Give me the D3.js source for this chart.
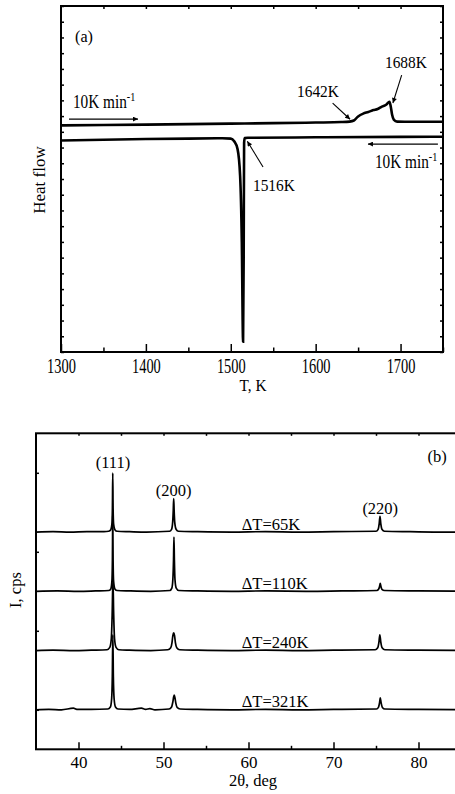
<!DOCTYPE html>
<html>
<head>
<meta charset="utf-8">
<script src="https://cdn.jsdelivr.net/npm/d3@7"></script>
<style>
  html, body { margin: 0; padding: 0; background: #fff; }
  svg { display: block; }
  text { font-family: "Liberation Serif", "Times New Roman", serif; fill: #000; }
</style>
</head>
<body>
<svg id="chart" width="455" height="794"></svg>
<script>
// ---- panel (a): DSC heating / cooling ----
const heatT = [1300, 1350, 1400, 1450, 1500, 1550, 1600, 1630, 1640, 1645, 1650, 1656, 1662, 1668, 1673, 1678, 1683, 1687, 1688.5, 1690, 1692, 1696, 1705, 1750];
const heatV = [14.41, 14.43, 14.46, 14.49, 14.52, 14.55, 14.59, 14.62, 14.65, 14.72, 14.98, 15.16, 15.26, 15.38, 15.45, 15.6, 15.72, 15.91, 15.6, 15.1, 14.78, 14.65, 14.64, 14.64];
const coolT = [1300, 1350, 1400, 1450, 1490, 1500, 1504, 1508, 1511, 1513, 1514.5, 1515.2, 1515.7, 1516.4, 1520, 1600, 1700, 1750];
const coolV = [13.45, 13.5, 13.54, 13.57, 13.59, 13.57, 13.4, 12.9, 11.2, 7.0, 0.65, 6.0, 13.3, 13.6, 13.62, 13.65, 13.68, 13.69];
const tempTicks = [1300, 1400, 1500, 1600, 1700];
const tempMinor = [1350, 1450, 1550, 1650, 1750];
const tempTop = [1350, 1400, 1450, 1500, 1550, 1600, 1650, 1700];
const flowTicks = d3.range(0, 23);
// annotations: [label, textT, textV, fromT, fromV, toT, toV]
const dscNotes = [
  ["1642K", 1578, 16.21, 1620, 15.83, 1640.5, 14.8],
  ["1688K", 1681.6, 18.05, 1701.3, 17.61, 1691, 15.83],
  ["1516K", 1526.1, 10.24, 1538, 11.76, 1519.5, 13.4]
];
const rateArrows = [[1309.4, 14.81, 1390.7, 14.81], [1744, 13.22, 1661.6, 13.22]];
const rateLabels = [[1314, 15.5], [1669.8, 11.7]];

// ---- panel (b): XRD patterns ----
const xrdLabels = ["\u0394T=65K", "\u0394T=110K", "\u0394T=240K", "\u0394T=321K"];
const xrdOffsets = [5.5, 4.0, 2.5, 1.0];
const xrd65 = [[35, 0], [37, 0.01], [39, 0], [41, 0.01], [43, 0.01], [43.55, 0.02], [43.8, 0.06], [43.93, 0.2], [43.99, 0.6], [44.03, 1.49], [44.07, 0.6], [44.13, 0.2], [44.28, 0.06], [44.55, 0.02], [46, 0.01], [48, 0], [50.7, 0.02], [50.95, 0.07], [51.08, 0.25], [51.15, 0.55], [51.2, 0.85], [51.25, 0.55], [51.32, 0.25], [51.48, 0.07], [51.75, 0.02], [54, 0.01], [58, 0], [62, 0.01], [66, 0], [70, 0.01], [75.0, 0.02], [75.25, 0.07], [75.38, 0.22], [75.47, 0.4], [75.56, 0.22], [75.7, 0.07], [76.0, 0.02], [79, 0.01], [83, 0], [86, 0]];
const xrd110 = [[35, 0], [37.5, 0.01], [40, 0], [42, 0.01], [43.55, 0.02], [43.8, 0.06], [43.93, 0.25], [43.99, 0.8], [44.03, 1.9], [44.07, 0.8], [44.13, 0.25], [44.28, 0.06], [44.55, 0.02], [46, 0.01], [48.5, 0], [50.75, 0.02], [50.98, 0.08], [51.1, 0.3], [51.18, 0.8], [51.23, 1.37], [51.28, 0.8], [51.35, 0.3], [51.5, 0.08], [51.8, 0.02], [54, 0.01], [58, 0], [62, 0.01], [67, 0], [71, 0.01], [75.1, 0.02], [75.3, 0.05], [75.42, 0.12], [75.5, 0.2], [75.58, 0.12], [75.7, 0.05], [76.0, 0.02], [80, 0.01], [86, 0]];
const xrd240 = [[35, 0], [37, 0.01], [39.5, 0], [41.5, 0.01], [43.35, 0.02], [43.68, 0.08], [43.86, 0.3], [43.96, 0.9], [44.05, 1.8], [44.14, 0.9], [44.24, 0.3], [44.42, 0.08], [44.75, 0.02], [46, 0.01], [48.5, 0], [50.5, 0.02], [50.85, 0.07], [51.0, 0.2], [51.1, 0.38], [51.2, 0.45], [51.3, 0.38], [51.4, 0.2], [51.56, 0.07], [51.9, 0.02], [54, 0.01], [58, 0], [62, 0.01], [66, 0], [70, 0.01], [74.9, 0.02], [75.2, 0.07], [75.35, 0.22], [75.45, 0.4], [75.56, 0.22], [75.72, 0.07], [76.05, 0.02], [80, 0.01], [86, 0]];
const xrd321 = [[35, 0], [36.5, 0.01], [38, 0], [39.4, 0.04], [39.8, 0.01], [41.5, 0.01], [43.45, 0.02], [43.75, 0.07], [43.9, 0.28], [43.98, 0.85], [44.04, 1.9], [44.1, 0.85], [44.19, 0.28], [44.35, 0.07], [44.65, 0.02], [46, 0.01], [47.4, 0.04], [47.9, 0.01], [48.4, 0.03], [49, 0], [50.65, 0.02], [50.95, 0.07], [51.1, 0.2], [51.2, 0.33], [51.27, 0.37], [51.35, 0.3], [51.45, 0.17], [51.6, 0.06], [51.95, 0.02], [54, 0.01], [58, 0], [62, 0.01], [66, 0], [70, 0.01], [75.05, 0.02], [75.3, 0.07], [75.42, 0.18], [75.5, 0.3], [75.6, 0.18], [75.75, 0.06], [76.05, 0.02], [80, 0.01], [86, 0]];
const xrdSets = [xrd65, xrd110, xrd240, xrd321];
const peakLabels = [["(111)", 44.05, 7.12], ["(200)", 51.2, 6.41], ["(220)", 75.5, 5.96]];
const angleTicks = [40, 50, 60, 70, 80];
const angleMinor = [45, 55, 65, 75, 85];
const angleTop = [40, 45, 50, 55, 60, 65, 70, 75, 80];
const cpsTicks = [1, 3, 5, 7];

const svg = d3.select("#chart");

svg.append("defs").append("marker")
  .attr("id", "head")
  .attr("viewBox", "0 0 10 10")
  .attr("refX", 10).attr("refY", 5)
  .attr("markerUnits", "userSpaceOnUse")
  .attr("markerWidth", 8).attr("markerHeight", 5)
  .attr("orient", "auto")
  .append("path").attr("d", "M0,0 L10,5 L0,10 Z").attr("fill", "#000");

function label(g, x, y, str, size, sx, anchor) {
  return g.append("text")
    .attr("transform", `translate(${x},${y}) scale(${sx},1)`)
    .attr("font-size", size)
    .attr("text-anchor", anchor || "start")
    .text(str);
}

function rateLabel(g, x, y) {
  const t = g.append("text")
    .attr("transform", `translate(${x},${y}) scale(0.85,1)`)
    .attr("font-size", 18);
  t.append("tspan").text("10K min");
  t.append("tspan").attr("dy", -7).attr("font-size", 12).text("-1");
}

function plainAxis(g, axis) {
  g.call(axis);
  g.select(".domain").remove();
  g.selectAll("line").attr("stroke", "#000").attr("stroke-width", 1.5);
  return g;
}

// ======== panel (a) ========
const xA = d3.scaleLinear().domain([1300, 1750]).range([61, 443]);
const yA = d3.scaleLinear().domain([0, 22]).range([352, 6]);
const gA = svg.append("g");

plainAxis(gA.append("g").attr("transform", "translate(0,352)"),
  d3.axisBottom(xA).tickValues(tempTicks).tickSize(-8).tickPadding(7).tickFormat(d3.format("d")));
gA.selectAll("text").attr("font-size", 20).attr("transform", "scale(0.72,1)")
  .attr("font-family", "Liberation Serif");
plainAxis(gA.append("g").attr("transform", "translate(0,352)"),
  d3.axisBottom(xA).tickValues(tempMinor).tickSize(-4.5).tickFormat(""));
plainAxis(gA.append("g").attr("transform", "translate(0,6)"),
  d3.axisTop(xA).tickValues(tempTop).tickSize(-3).tickFormat(""));
plainAxis(gA.append("g").attr("transform", "translate(61,0)"),
  d3.axisLeft(yA).tickValues(flowTicks).tickSize(-3).tickFormat(""));
plainAxis(gA.append("g").attr("transform", "translate(443,0)"),
  d3.axisRight(yA).tickValues(flowTicks).tickSize(-3).tickFormat(""));

gA.append("rect")
  .attr("x", xA(1300)).attr("y", yA(22))
  .attr("width", xA(1750) - xA(1300)).attr("height", yA(0) - yA(22))
  .attr("fill", "none").attr("stroke", "#000").attr("stroke-width", 2);

const lineA = d3.line().x(d => xA(d[0])).y(d => yA(d[1])).curve(d3.curveMonotoneX);
gA.append("path").datum(d3.zip(heatT, heatV)).attr("d", lineA)
  .attr("fill", "none").attr("stroke", "#000").attr("stroke-width", 2.6);
gA.append("path").datum(d3.zip(coolT, coolV)).attr("d", lineA)
  .attr("fill", "none").attr("stroke", "#000").attr("stroke-width", 2.6);

rateArrows.forEach(a => {
  gA.append("line")
    .attr("x1", xA(a[0])).attr("y1", yA(a[1]))
    .attr("x2", xA(a[2])).attr("y2", yA(a[3]))
    .attr("stroke", "#000").attr("stroke-width", 1.2)
    .attr("marker-end", "url(#head)");
});
rateLabels.forEach(p => rateLabel(gA, xA(p[0]), yA(p[1])));

dscNotes.forEach(n => {
  label(gA, xA(n[1]), yA(n[2]), n[0], 17.5, 0.88);
  gA.append("line")
    .attr("x1", xA(n[3])).attr("y1", yA(n[4]))
    .attr("x2", xA(n[5])).attr("y2", yA(n[6]))
    .attr("stroke", "#000").attr("stroke-width", 1.1)
    .attr("marker-end", "url(#head)");
});

label(gA, xA(1316.5), yA(19.7), "(a)", 17, 0.95);
label(gA, 253, 391, "T, K", 17, 0.9, "middle");
gA.append("text")
  .attr("transform", "translate(45,180) rotate(-90)")
  .attr("font-size", 17).attr("text-anchor", "middle")
  .text("Heat flow");

// ======== panel (b) ========
const xB = d3.scaleLinear().domain([35, 85]).range([36, 461]);
const yB = d3.scaleLinear().domain([0, 8]).range([749.3, 433.3]);
const gB = svg.append("g");

plainAxis(gB.append("g").attr("transform", "translate(0,749.3)"),
  d3.axisBottom(xB).tickValues(angleTicks).tickSize(-7).tickPadding(7).tickFormat(d3.format("d")))
  .selectAll("text").attr("font-size", 17).attr("font-family", "Liberation Serif");
plainAxis(gB.append("g").attr("transform", "translate(0,749.3)"),
  d3.axisBottom(xB).tickValues(angleMinor).tickSize(-3.5).tickFormat(""));
plainAxis(gB.append("g").attr("transform", "translate(0,433.3)"),
  d3.axisTop(xB).tickValues(angleTop).tickSize(-2.5).tickFormat(""));
plainAxis(gB.append("g").attr("transform", "translate(36,0)"),
  d3.axisLeft(yB).tickValues(cpsTicks).tickSize(-3).tickFormat(""));

gB.append("rect")
  .attr("x", xB(35)).attr("y", yB(8))
  .attr("width", xB(85) - xB(35)).attr("height", yB(0) - yB(8))
  .attr("fill", "none").attr("stroke", "#000").attr("stroke-width", 2);

const lineB = d3.line().x(d => xB(d[0])).y(d => yB(d[1])).curve(d3.curveMonotoneX);
xrdSets.forEach((set, i) => {
  const off = xrdOffsets[i];
  gB.append("path")
    .datum(set.map(d => [d[0], d[1] + off]))
    .attr("d", lineB)
    .attr("fill", "none").attr("stroke", "#000").attr("stroke-width", 1.7);
  label(gB, xB(59.2), yB(off + 0.06), xrdLabels[i], 16.5, 1);
});

peakLabels.forEach(p => label(gB, xB(p[1]), yB(p[2]), p[0], 16.5, 1, "middle"));
label(gB, xB(82.2), yB(7.28), "(b)", 16.5, 1, "middle");
label(gB, 253, 786, "2\u03b8, deg", 16.5, 1, "middle");
gB.append("text")
  .attr("transform", "translate(21,590) rotate(-90)")
  .attr("font-size", 16.5).attr("text-anchor", "middle")
  .text("I, cps");
</script>
</body>
</html>
